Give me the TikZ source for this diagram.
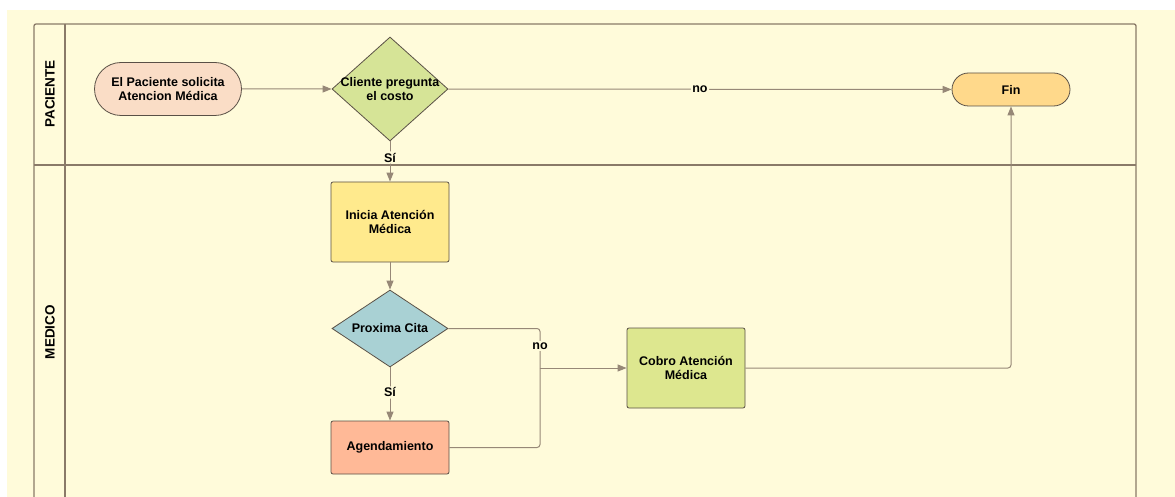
\documentclass[tikz,border=0pt]{standalone}
\usepackage{fontspec}
\setmainfont{Liberation Sans}
\usepackage{tikz}
\usetikzlibrary{shapes.geometric,shapes.misc,arrows.meta}
\definecolor{fondo}{HTML}{FFFBDA}
\definecolor{carril}{HTML}{8A7A68}
\definecolor{flecha}{HTML}{978877}
\definecolor{borde}{HTML}{5A5046}
\definecolor{durazno}{HTML}{FADDC6}
\definecolor{verde}{HTML}{D6E497}
\definecolor{naranja}{HTML}{FFD98B}
\definecolor{amarillo}{HTML}{FFEA8D}
\definecolor{celeste}{HTML}{A9D1D4}
\definecolor{salmon}{HTML}{FFB997}
\definecolor{lima}{HTML}{DDE78F}

\begin{document}
\begin{tikzpicture}[x=1pt,y=-1pt]
\tikzstyle{every node}+=[inner sep=0pt, align=center, font=\bfseries\fontsize{12.5}{14}\selectfont]
\tikzstyle{lane}=[draw=carril, line width=1.3pt]
\tikzstyle{term}=[rounded rectangle, draw=borde, line width=0.8pt]
\tikzstyle{proc}=[rectangle, rounded corners=2pt, draw=borde, line width=0.8pt, minimum width=118, minimum height=80]
\tikzstyle{dec}=[diamond, draw=borde, line width=0.8pt, minimum width=116, minimum height=104]
\tikzstyle{link}=[draw=flecha, line width=1pt, rounded corners=3pt]
\tikzstyle{flow}=[link, -{Triangle[length=9pt,width=7pt]}]
\tikzstyle{tag}=[fill=fondo, inner sep=1.5pt]
\useasboundingbox (0,0) rectangle (1175,497);
\fill [fondo] (7,10) rectangle (1175,497);
\draw [lane, rounded corners=2pt] (34,497) -- (34,24) -- (1136,24) -- (1136,497);
\draw [lane] (65,24) -- (65,497);
\draw [lane] (34,165) -- (1136,165);
\node [rotate=90, font=\bfseries\fontsize{13.5}{16}\selectfont] (paciente) at (50,94) {PACIENTE};
\node [rotate=90, font=\bfseries\fontsize{13.5}{16}\selectfont] (medico) at (50,332) {MEDICO};
\node [term, fill=durazno, minimum width=147, minimum height=53] (inicio) at (168,89) {El Paciente solicita\\Atencion Médica};
\node [dec, fill=verde, label={center:Cliente pregunta\\el costo}] (costo) at (390,89) {};
\node [term, fill=naranja, minimum width=118, minimum height=33] (fin) at (1011,89.5) {Fin};
\node [proc, fill=amarillo] (atencion) at (390,222) {Inicia Atención\\Médica};
\node [dec, fill=celeste, minimum height=77] (cita) at (390,328.5) {};
\node (citatxt) at (cita.center) {Proxima Cita};
\node [proc, fill=salmon, minimum height=53] (agenda) at (390,447.5) {Agendamiento};
\node [proc, fill=lima] (cobro) at (686,368) {Cobro Atención\\Médica};
\coordinate (union) at (540,368);
\draw [flow] (inicio) -- (costo);
\draw [flow] (costo) -- node [tag] (no1) {no} (fin);
\draw [flow] (costo) -- node [tag, pos=0.4] (si1) {Sí} (atencion);
\draw [flow] (atencion) -- (cita);
\draw [flow] (cita) -- node [tag, pos=0.47] (si2) {Sí} (agenda);
\draw [link] (cita.east) -| node [tag, pos=0.72] (no2) {no} (union);
\draw [link] (agenda.east) -| (union);
\draw [flow] (union) -- (cobro);
\draw [flow] (cobro.east) -| (fin.south);
\end{tikzpicture}
\end{document}
